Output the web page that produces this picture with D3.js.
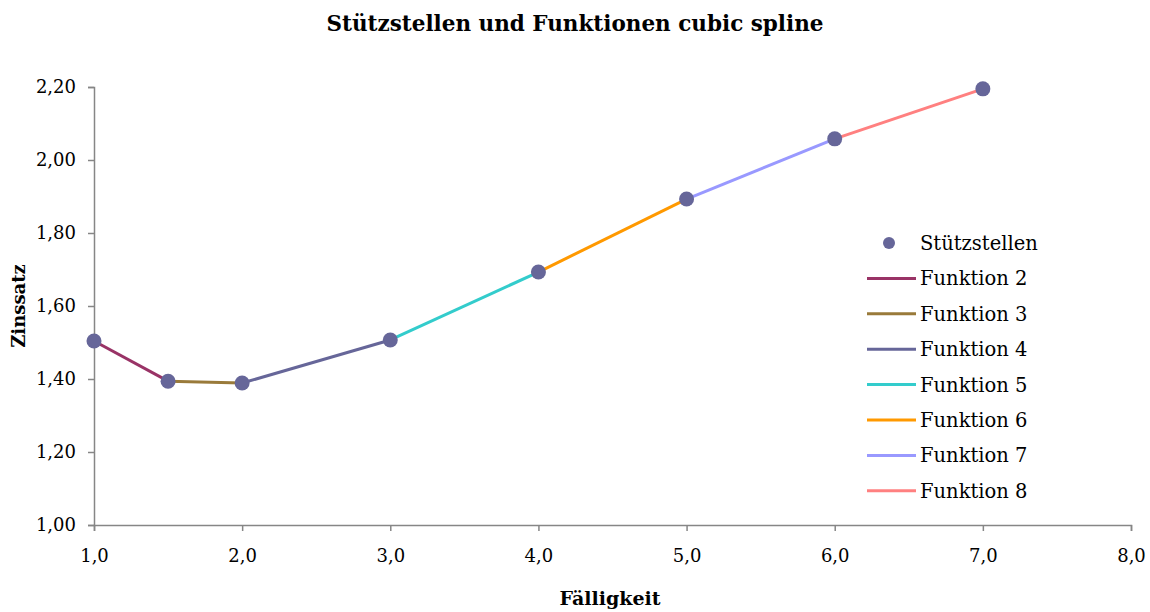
<!DOCTYPE html>
<html><head><meta charset="utf-8">
<script src="https://cdn.jsdelivr.net/npm/d3@7"></script>
<style>body{margin:0;background:#fff}</style>
</head><body><svg id="c" width="1150" height="612"></svg>
<script>
const knotsX = [1.0, 1.5, 2.0, 3.0, 4.0, 5.0, 6.0, 7.0];
const knotsY = [1.504, 1.394, 1.389, 1.507, 1.693, 1.893, 2.058, 2.195];
const segNames = ["Funktion 2","Funktion 3","Funktion 4","Funktion 5","Funktion 6","Funktion 7","Funktion 8"];
const segColors = ["#993366","#997a3a","#666699","#33cccc","#ff9900","#9999ff","#ff8080"];
const xTicks = [1,2,3,4,5,6,7,8];
const yTicks = [1.0,1.2,1.4,1.6,1.8,2.0,2.2];
const pointColor = "#666699";

const svg = d3.select("#c");
const x = d3.scaleLinear().domain([1,8]).range([94,1131]);
const y = d3.scaleLinear().domain([1,2.2]).range([525,87]);
const fmt1 = d => d3.format(".1f")(d).replace(".", ",");
const fmt2 = d => d3.format(".2f")(d).replace(".", ",");
const serif = "'DejaVu Serif', serif";

svg.append("text").attr("x",575).attr("y",31).attr("text-anchor","middle")
  .attr("font-family",serif).attr("font-weight","bold").attr("font-size",21.5)
  .text("Stützstellen und Funktionen cubic spline");

const gx = svg.append("g").attr("transform","translate(0,525)")
  .call(d3.axisBottom(x).tickValues(xTicks).tickFormat(fmt1).tickSizeOuter(0).tickSize(6).tickPadding(18));
const gy = svg.append("g").attr("transform","translate(94,0)")
  .call(d3.axisLeft(y).tickValues(yTicks).tickFormat(fmt2).tickSizeOuter(0).tickSize(6).tickPadding(12));
[gx,gy].forEach(g=>{
  g.selectAll("path,line").attr("stroke","#868686").attr("stroke-width",1.5);
  g.selectAll("text").attr("font-family",serif).attr("font-size",18).attr("fill","#000");
});

svg.append("text").attr("transform","translate(25,306) rotate(-90)").attr("text-anchor","middle")
  .attr("font-family",serif).attr("font-weight","bold").attr("font-size",18).text("Zinssatz");
svg.append("text").attr("x",610).attr("y",605).attr("text-anchor","middle")
  .attr("font-family",serif).attr("font-weight","bold").attr("font-size",19).text("Fälligkeit");

const line = d3.line().x(d=>x(d[0])).y(d=>y(d[1]));
segNames.forEach((n,i)=>{
  svg.append("path").attr("d", line([[knotsX[i],knotsY[i]],[knotsX[i+1],knotsY[i+1]]]))
    .attr("fill","none").attr("stroke",segColors[i]).attr("stroke-width",3);
});
svg.selectAll("circle.pt").data(knotsX).enter().append("circle").attr("class","pt")
  .attr("cx",(d)=>x(d)).attr("cy",(d,i)=>y(knotsY[i])).attr("r",7.5).attr("fill",pointColor);

// legend
const lg = svg.append("g");
const rowY = i => 243 + i*35.4;
lg.append("circle").attr("cx",889).attr("cy",rowY(0)).attr("r",6).attr("fill",pointColor);
lg.append("text").attr("x",920).attr("y",rowY(0)+7).attr("font-family",serif).attr("font-size",19.5).text("Stützstellen");
segNames.forEach((n,i)=>{
  lg.append("line").attr("x1",867).attr("x2",916).attr("y1",rowY(i+1)).attr("y2",rowY(i+1))
    .attr("stroke",segColors[i]).attr("stroke-width",3);
  lg.append("text").attr("x",920).attr("y",rowY(i+1)+7).attr("font-family",serif).attr("font-size",19.5).text(n);
});
</script></body></html>
